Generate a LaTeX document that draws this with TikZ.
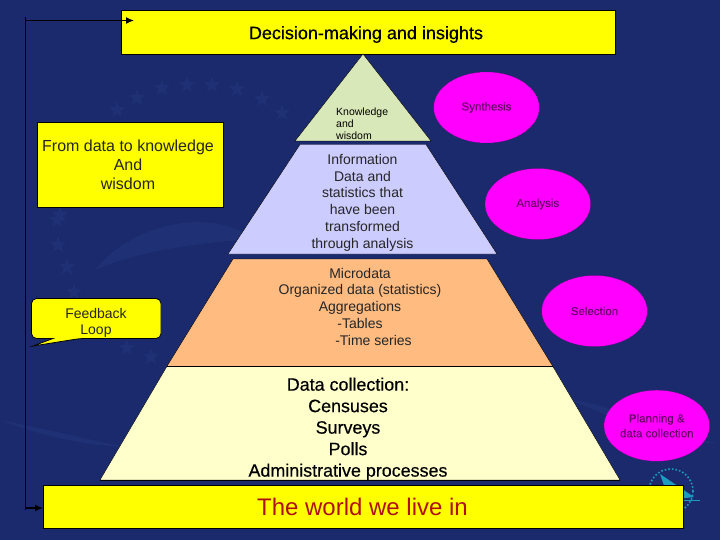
\documentclass[tikz,border=0pt]{standalone}
\usepackage{fontspec}
\setmainfont{Liberation Sans}
\newfontfamily\heavy[FakeBold=0.4]{Liberation Sans}
\newfontfamily\medium[FakeBold=0.12]{Liberation Sans}
\usetikzlibrary{shapes.geometric,arrows.meta}
\definecolor{navy}{HTML}{1A2A6C}
\definecolor{navylight}{HTML}{1F3174}
\definecolor{yel}{HTML}{FFFF00}
\definecolor{mag}{HTML}{FF00FF}
\definecolor{pgreen}{HTML}{D9E8B8}
\definecolor{plav}{HTML}{CCCCFF}
\definecolor{porange}{HTML}{FFBB80}
\definecolor{pcream}{HTML}{FFFFCC}
\definecolor{redtxt}{HTML}{B01010}
\definecolor{purp}{HTML}{800080}
\definecolor{purptxt}{HTML}{6A006A}
\definecolor{teal}{HTML}{1C9CC0}
\tikzset{
  x=1pt,y=-1pt,
  ybox/.style={draw=black,fill=yel,line width=0.9pt},
  tier/.style={fill=#1,draw=black,line width=0.4pt},
  lab/.style={align=center,inner sep=0pt,text=#1},
  oval/.style={draw=purp,densely dotted,line width=0.5pt,fill=mag,ellipse,minimum width=105.5pt,minimum height=71pt,inner sep=0pt,align=center,text=purptxt,font=\medium\fontsize{11.5}{15}\selectfont},
  bgstar/.style={star,star points=5,star point ratio=2.4,fill=navylight,minimum size=17pt,inner sep=0pt},
  conn/.style={draw=black,line width=0.8pt},
  arrowline/.style={draw=black,line width=1.3pt,-{Latex[length=8pt,width=7pt]}},
}
\begin{document}
\begin{tikzpicture}
\useasboundingbox (0,0) rectangle (720,540);
\fill[navy] (0,0) rectangle (720,540);
% background decoration
\fill[navylight] (95,270) .. controls (130,225) and (210,205) .. (255,240) .. controls (215,240) and (140,250) .. (95,270);
\fill[navylight] (0,420) .. controls (50,430) and (90,440) .. (125,447) .. controls (80,445) and (40,435) .. (0,420);
\fill[navylight] (570,400) .. controls (620,405) and (680,440) .. (720,443) .. controls (670,445) and (620,420) .. (570,400);
\foreach \i/\a/\b in {1/117/110,2/137/98,3/162/88,4/187/85,5/212/85,6/237/89,7/262/99,8/282/113,9/57/220,10/58/245,11/67/267,12/74/292,13/127/348,14/151/357,15/60/190,16/60/215}
  \node[bgstar] (s\i) at (\a,\b) {};
\draw[teal,dotted,line width=1.6pt] (671,491) circle (22);
\fill[teal] (660,474) -- (694,497) -- (669,500) -- cycle;
\draw[teal,line width=0.6pt] (650,500) -- (700,500);
% boxes
\node[ybox,minimum width=494pt,minimum height=43.5pt,inner sep=0pt,anchor=north west] (top) at (121.3,10.5) {};
\node[lab=black,font=\heavy\fontsize{18}{18}\selectfont] (toplab) at (366,34.5) {Decision-making and insights};
\node[ybox,minimum width=186.5pt,minimum height=84.5pt,inner sep=0pt,anchor=north west] (left) at (36.5,122.5) {};
\node[lab=black!85,font=\fontsize{16}{19}\selectfont] (leftlab) at (128,165) {From data to knowledge\\And\\wisdom};
% pyramid
\path[tier=pgreen] (363,54) -- (431,141) -- (295,141) -- cycle;
\path[tier=plav] (300,144.5) -- (426,144.5) -- (497,254) -- (228,254) -- cycle;
\path[tier=porange] (233,259) -- (487,259) -- (553,366.7) -- (166.7,366.7) -- cycle;
\path[tier=pcream] (166.7,366.7) -- (553,366.7) -- (620,480) -- (100,480) -- cycle;
\draw[black,line width=0.8pt] (166.7,366.7) -- (553,366.7);
\draw[black,line width=0.8pt] (100,480) -- (620,480);
\node[lab=black,font=\fontsize{10.5}{12}\selectfont,align=left,anchor=north west] (k) at (336,107.5) {Knowledge\\and\\wisdom};
\node[lab=black!85,font=\fontsize{14}{16.9}\selectfont] (i) at (362.5,202.8) {Information\\Data and\\statistics that\\have been\\transformed\\through analysis};
\node[lab=black!85,font=\fontsize{14}{16.8}\selectfont] (m) at (360,306.7) {Microdata\\Organized data (statistics)\\Aggregations\\-Tables\hspace*{7pt}\\\hspace*{27pt}-Time series};
\node[lab=black,font=\heavy\fontsize{17.9}{21.5}\selectfont] (d) at (348,429) {Data collection:\\Censuses\\Surveys\\Polls\\Administrative processes};
% bottom box
\node[ybox,minimum width=640pt,minimum height=43.5pt,inner sep=0pt,anchor=north west] (bot) at (43,484.5) {};
\node[lab=redtxt,font=\fontsize{24}{26}\selectfont] (botlab) at (362.5,507) {The world we live in};
% ovals
\node[oval] (syn) at (486.5,107.5) {\raisebox{-1pt}{Synthesis}};
\node[oval] (ana) at (537.8,204) {\raisebox{-1pt}{Analysis}};
\node[oval] (sel) at (594.5,311) {\raisebox{-1pt}{Selection}};
\node[oval] (pla) at (656.8,425.7) {Planning \&\\data collection};
% callout
\path[draw=black,fill=yel,line width=0.8pt,rounded corners=5pt] (31.5,298.5) -- (161,298.5) -- (161,338.5) -- (80,338.5) [sharp corners] -- (33,346) -- (53,338.5) [rounded corners=5pt] -- (31.5,338.5) -- cycle;
\node[lab=black!85,font=\fontsize{14}{16.2}\selectfont] (fb) at (96,322.5) {Feedback\\Loop};
% feedback line
\coordinate (c1) at (25.5,17);
\coordinate (c2) at (25.5,510);
\coordinate (c3) at (25.5,20.5);
\coordinate (c4) at (25.5,508);
\coordinate (a1) at (134,20.5);
\draw[conn] (c1) -- (c2);
\draw[arrowline] (c3) -- (a1);
\draw[arrowline] (c4) -- (bot.west |- c4);
\end{tikzpicture}
\end{document}
